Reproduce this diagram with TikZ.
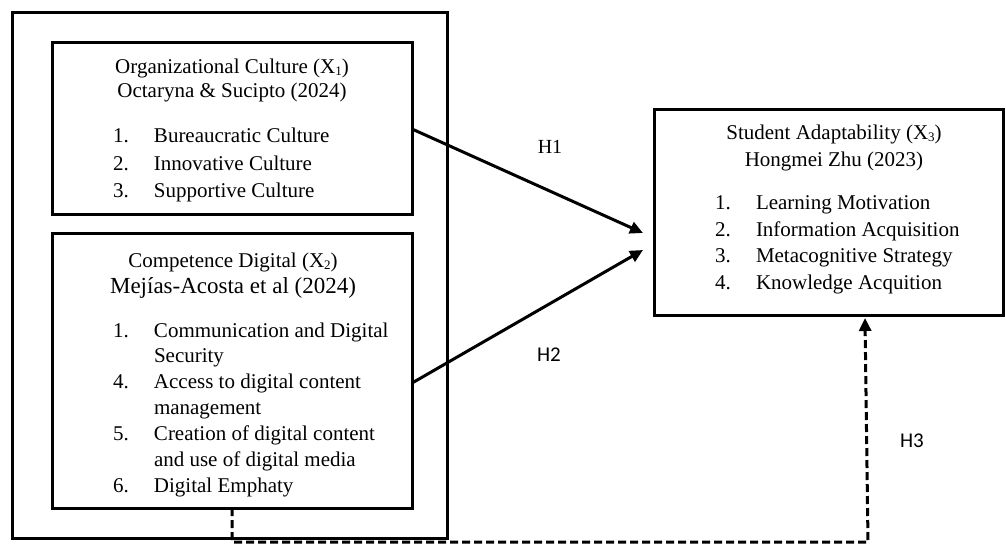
\documentclass[tikz,border=0pt]{standalone}
\usepackage{fontspec}
\setmainfont{Liberation Serif}
\newfontfamily\calib{Carlito}
\usetikzlibrary{arrows.meta,calc}
\newcommand\sbs[1]{\raisebox{-1.5pt}{\fontsize{13}{13}\selectfont #1}}
\begin{document}
\begin{tikzpicture}[x=1pt,y=-1pt,
  boxframe/.style={draw=black,line width=3pt,inner sep=0pt,outer sep=0pt,anchor=north west},
  txt/.style={inner sep=0pt,outer sep=0pt,anchor=base},
  lst/.style={inner sep=0pt,outer sep=0pt,anchor=base west},
  conn/.style={line width=3pt,-{Triangle[length=13pt,width=12pt]}},
  dconn/.style={line width=3pt,dash pattern=on 8pt off 4pt,line join=miter,-{Triangle[length=13pt,width=12pt]}},
  hlab/.style={inner sep=0pt,outer sep=0pt}
]
\useasboundingbox (0,0) rectangle (1006,545);
\fill[white] (0,0) rectangle (1006,545);

% boxes
\node[boxframe,minimum width=435pt,minimum height=525pt] (outer) at (12,13) {};
\node[boxframe,minimum width=360pt,minimum height=172pt] (x1) at (52,43) {};
\node[boxframe,minimum width=360pt,minimum height=274pt] (x2) at (52,234) {};
\node[boxframe,minimum width=349pt,minimum height=205pt] (x3) at (654,110) {};

% X1 texts
\node[txt] (x1t) at (232,74) {\fontsize{21}{24}\selectfont\begin{tabular}[t]{@{}c@{}}
Organizational Culture (X\sbs{1})\\
Octaryna \& Sucipto (2024)\end{tabular}};
\node[lst] (x1l) at (113,143) {\fontsize{21}{27.5}\selectfont\begin{tabular}[t]{@{}p{41pt}@{}l@{}}
1. & Bureaucratic Culture\\
2. & Innovative Culture\\
3. & Supportive Culture\end{tabular}};

% X2 texts
\node[txt] (x2t) at (233,268) {\fontsize{21}{25}\selectfont\begin{tabular}[t]{@{}c@{}}
Competence Digital (X\sbs{2})\\
{\fontsize{23}{25}\selectfont Mejías-Acosta et al (2024)}\end{tabular}};
\node[lst] (x2l) at (113,337) {\fontsize{21}{25.9}\selectfont\begin{tabular}[t]{@{}p{41pt}@{}l@{}}
1. & Communication and Digital\\
 & Security\\
4. & Access to digital content\\
 & management\\
5. & Creation of digital content\\
 & and use of digital media\\
6. & Digital Emphaty\end{tabular}};

% X3 texts
\node[txt] (x3t) at (834,140) {\fontsize{21}{27}\selectfont\begin{tabular}[t]{@{}c@{}}
Student Adaptability (X\sbs{3})\\
Hongmei Zhu (2023)\end{tabular}};
\node[lst] (x3l) at (715,210) {\fontsize{21}{26.4}\selectfont\begin{tabular}[t]{@{}p{41pt}@{}l@{}}
1. & Learning Motivation\\
2. & Information Acquisition\\
3. & Metacognitive Strategy\\
4. & Knowledge Acquition\end{tabular}};

% connector end points
\coordinate (t1) at (643,233);
\coordinate (t2) at (643,250);
\coordinate (h2s) at ($(x2.north east)!0.544!(x2.south east)$);
\coordinate (h3c) at (868,542);
\coordinate (h3t) at (865,318);

\draw[conn] (x1.east) -- (t1);
\draw[conn] (h2s) -- (t2);
\draw[dconn] (x2.south) -- (x2.south |- h3c) -- (h3c) -- (h3t);

% labels
\node[hlab] (h1) at (550,147) {\fontsize{20}{20}\selectfont H1};
\node[hlab] (h2) at (549,355) {\calib\fontsize{21}{21}\selectfont H2};
\node[hlab] (h3) at (912,441) {\calib\fontsize{21}{21}\selectfont H3};
\end{tikzpicture}
\end{document}
